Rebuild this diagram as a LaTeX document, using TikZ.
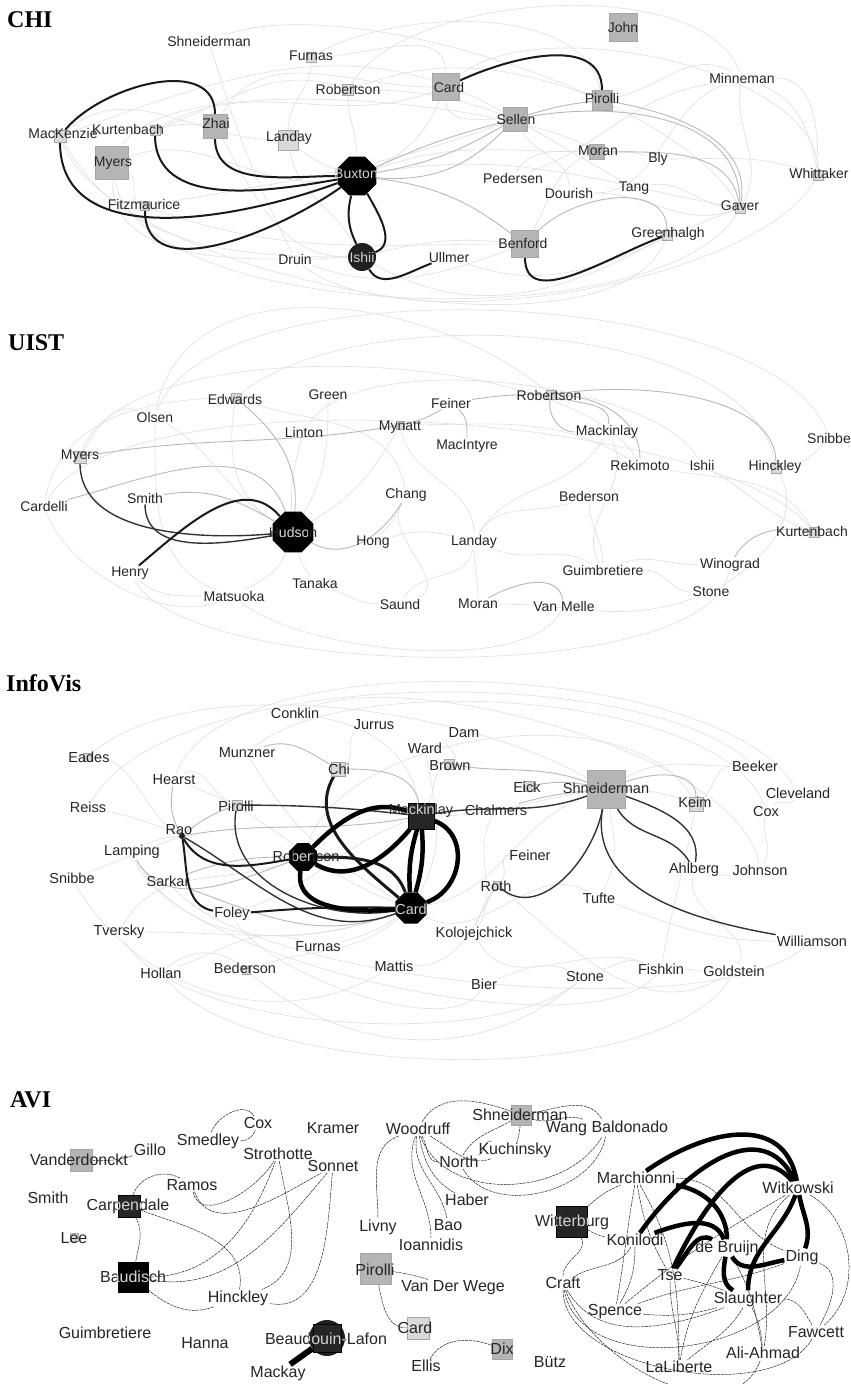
\documentclass[tikz,border=0pt]{standalone}
\usepackage{fontspec}
\setmainfont{Liberation Sans}
\newfontfamily\headfont{Liberation Serif}
\usetikzlibrary{shapes.geometric,backgrounds}
\tikzset{
    who/.style={font=\fontsize{14}{16}\selectfont,inner sep=1pt,text=black!85},
    whoi/.style={who,font=\fontsize{14.5}{16}\selectfont},
    whoa/.style={who,font=\fontsize{16}{18}\selectfont},
    dim/.style={text=gray!35},
    venue/.style={font=\headfont\bfseries\fontsize{24}{28}\selectfont,anchor=west,inner sep=0pt},
    box/.style={rectangle,draw=gray!70,line width=0.4pt,minimum size=#1,inner sep=0pt},
    pale/.style={box=#1,fill=gray!30},
    grey/.style={box=#1,fill=gray!58},
    dark/.style={box=#1,fill=gray!30!black,draw=black},
    coal/.style={box=#1,fill=black,draw=black},
    hub/.style={regular polygon,regular polygon sides=8,fill=black,minimum size=#1,inner sep=0pt},
    ball/.style={circle,fill=gray!25!black,minimum size=#1,inner sep=0pt},
    faint/.style={draw=gray!25,line width=0.6pt},
    soft/.style={draw=gray!55,line width=0.9pt},
    firm/.style={draw=gray!40!black,line width=1.4pt},
    strong/.style={draw=black!90,line width=2pt},
    heavy/.style={draw=black,line width=4.5pt},
    hair/.style={draw=black!85,line width=0.5pt,dash pattern=on 3pt off 0.8pt},
}

\begin{document}
\begin{tikzpicture}[x=1pt,y=-1pt]
\useasboundingbox (0,0) rectangle (851,1384);

% ---------------- CHI
\node[venue] (tCHI) at (7,20) {CHI};
\node[pale=10] (cFurnas) at (311,57) {};
\node[pale=11] (cRobertson) at (348,90) {};
\node[grey=27] (cCard) at (446,87) {};
\node[grey=28] (cJohn) at (623,27) {};
\node[grey=20] (cPirolli) at (602,100) {};
\node[grey=24] (cSellen) at (515,119) {};
\node[pale=12] (cMacKenzie) at (60,136) {};
\node[pale=10] (cKurtenbach) at (155,130) {};
\node[grey=24] (cZhai) at (215,126) {};
\node[pale=20] (cLanday) at (288,140) {};
\node[grey=33] (cMyers) at (112,163) {};
\node[hub=42] (cBuxton) at (357,176) {};
\node[grey=15] (cMoran) at (597,152) {};
\node[pale=9] (cFitzmaurice) at (145,206) {};
\node[pale=10] (cGaver) at (740,208) {};
\node[grey=27] (cBenford) at (525,244) {};
\node[pale=10] (cGreenhalgh) at (667,235) {};
\node[ball=28] (cIshii) at (362,257) {};
\node[pale=10] (cWhittaker) at (818,175) {};

\node[who] (cShneiderman) at (209,41) {Shneiderman};
\node[who] (cFurnasL) at (311,56) {Furnas};
\node[who] (cRobertsonL) at (348,89) {Robertson};
\node[who] (cCardL) at (449,87) {Card};
\node[who] (cJohnL) at (623,27) {John};
\node[who] (cPirolliL) at (602,98) {Pirolli};
\node[who] (cMinneman) at (742,78) {Minneman};
\node[who] (cSellenL) at (516,119) {Sellen};
\node[who] (cMacKenzieL) at (63,133) {MacKenzie};
\node[who] (cKurtenbachL) at (128,129) {Kurtenbach};
\node[who] (cZhaiL) at (216,123) {Zhai};
\node[who] (cLandayL) at (289,138) {Landay};
\node[who] (cMyersL) at (113,163) {Myers};
\node[who,dim] (cBuxtonL) at (356,174) {Buxton};
\node[who] (cMoranL) at (598,151) {Moran};
\node[who] (cBly) at (658,159) {Bly};
\node[who] (cPedersen) at (513,178) {Pedersen};
\node[who] (cWhittakerL) at (819,173) {Whittaker};
\node[who] (cDourish) at (569,193) {Dourish};
\node[who] (cTang) at (634,188) {Tang};
\node[who] (cFitzmauriceL) at (144,204) {Fitzmaurice};
\node[who] (cGaverL) at (740,206) {Gaver};
\node[who] (cBenfordL) at (523,243) {Benford};
\node[who] (cGreenhalghL) at (668,234) {Greenhalgh};
\node[who] (cDruin) at (295,259) {Druin};
\node[who,dim] (cIshiiL) at (362,257) {Ishii};
\node[who] (cUllmer) at (449,257) {Ullmer};

% ---------------- UIST
\node[venue] (tUIST) at (8,343) {UIST};
\node[pale=10] (uEdwards) at (236,398) {};
\node[pale=8] (uMynatt) at (400,425) {};
\node[pale=9] (uRobertson) at (551,395) {};
\node[pale=12] (uMyers) at (80,457) {};
\node[hub=44] (uHudson) at (293,532) {};
\node[pale=10] (uHinckley) at (776,468) {};
\node[pale=10] (uKurtenbach) at (814,532) {};

\node[who] (uEdwardsL) at (235,399) {Edwards};
\node[who] (uGreen) at (328,395) {Green};
\node[who] (uOlsen) at (155,417) {Olsen};
\node[who] (uLinton) at (304,432) {Linton};
\node[who] (uMynattL) at (400,427) {Mynatt};
\node[who] (uFeiner) at (451,403) {Feiner};
\node[who] (uMacIntyre) at (467,446) {MacIntyre};
\node[who] (uRobertsonL) at (549,395) {Robertson};
\node[who] (uMackinlay) at (607,432) {Mackinlay};
\node[who] (uRekimoto) at (640,465) {Rekimoto};
\node[who] (uIshii) at (702,465) {Ishii};
\node[who] (uHinckleyL) at (775,467) {Hinckley};
\node[who] (uSnibbe) at (829,438) {Snibbe};
\node[who] (uMyersL) at (80,456) {Myers};
\node[who] (uCardelli) at (44,506) {Cardelli};
\node[who] (uSmith) at (145,498) {Smith};
\node[who] (uChang) at (406,495) {Chang};
\node[who] (uBederson) at (589,496) {Bederson};
\node[who] (uHudsonL) at (293,532) {Hudson};
\node[who] (uHong) at (373,542) {Hong};
\node[who] (uLanday) at (474,542) {Landay};
\node[who] (uKurtenbachL) at (812,531) {Kurtenbach};
\node[who] (uHenry) at (130,573) {Henry};
\node[who] (uWinograd) at (730,565) {Winograd};
\node[who] (uGuimbretiere) at (603,570) {Guimbretiere};
\node[who] (uTanaka) at (315,583) {Tanaka};
\node[who] (uMatsuoka) at (234,596) {Matsuoka};
\node[who] (uStone) at (711,592) {Stone};
\node[who] (uSaund) at (400,604) {Saund};
\node[who] (uMoran) at (478,604) {Moran};
\node[who] (uVanMelle) at (564,606) {Van Melle};
\begin{scope}
\clip (uHudson.south west) rectangle (uHudson.north east);
\node[who,dim] (uHudsonW) at (293,532) {Hudson};
\end{scope}

% ---------------- InfoVis
\node[venue] (tInfoVis) at (6,683) {InfoVis};
\node[pale=8] (iEades) at (87,757) {};
\node[pale=14] (iChi) at (338,769) {};
\node[pale=10] (iBrown) at (449,764) {};
\node[pale=10] (iEick) at (528,786) {};
\node[ball=36] (iShneidermanB) at (606,789) {};
\node[grey=38] (iShneiderman) at (606,789) {};
\node[pale=14] (iKeim) at (696,804) {};
\node[pale=10] (iPirolli) at (237,805) {};
\node[dark=26] (iMackinlay) at (421,816) {};
\node[ball=6] (iRao) at (182,836) {};
\node[hub=30] (iRobertson) at (303,857) {};
\node[pale=8] (iRoth) at (497,885) {};
\node[hub=34] (iCard) at (411,908) {};
\node[pale=8] (iBederson) at (246,970) {};

\node[whoi] (iConklin) at (295,713) {Conklin};
\node[whoi] (iJurrus) at (374,725) {Jurrus};
\node[whoi] (iDam) at (464,733) {Dam};
\node[whoi] (iWard) at (425,748) {Ward};
\node[whoi] (iEadesL) at (89,757) {Eades};
\node[whoi] (iMunzner) at (247,753) {Munzner};
\node[whoi] (iBrownL) at (450,766) {Brown};
\node[whoi] (iChiL) at (339,769) {Chi};
\node[whoi] (iBeeker) at (755,766) {Beeker};
\node[whoi] (iHearst) at (174,780) {Hearst};
\node[whoi] (iEickL) at (527,787) {Eick};
\node[whoi] (iShneidermanL) at (606,788) {Shneiderman};
\node[whoi] (iCleveland) at (798,793) {Cleveland};
\node[whoi] (iChalmers) at (496,810) {Chalmers};
\node[whoi] (iKeimL) at (695,802) {Keim};
\node[whoi] (iPirolliL) at (236,806) {Pirolli};
\node[whoi] (iMackinlayL) at (421,811) {Mackinlay};
\node[whoi] (iCox) at (766,811) {Cox};
\node[whoi] (iReiss) at (88,807) {Reiss};
\node[whoi] (iRaoL) at (179,830) {Rao};
\node[whoi] (iLamping) at (132,852) {Lamping};
\node[whoi] (iRobertsonL) at (306,856) {Robertson};
\node[whoi] (iFeiner) at (530,855) {Feiner};
\node[whoi] (iSnibbe) at (72,878) {Snibbe};
\node[whoi] (iSarkar) at (168,881) {Sarkar};
\node[whoi] (iRothL) at (496,886) {Roth};
\node[whoi] (iAhlberg) at (694,870) {Ahlberg};
\node[whoi] (iJohnson) at (760,870) {Johnson};
\node[whoi] (iTufte) at (599,898) {Tufte};
\node[whoi,dim] (iCardL) at (411,909) {Card};
\node[whoi] (iFoley) at (232,914) {Foley};
\node[whoi] (iTversky) at (119,932) {Tversky};
\node[whoi] (iKolojejchick) at (474,934) {Kolojejchick};
\node[whoi] (iWilliamson) at (812,941) {Williamson};
\node[whoi] (iFurnas) at (318,947) {Furnas};
\node[whoi] (iHollan) at (161,973) {Hollan};
\node[whoi] (iBedersonL) at (245,968) {Bederson};
\node[whoi] (iMattis) at (394,966) {Mattis};
\node[whoi] (iBier) at (484,984) {Bier};
\node[whoi] (iStone) at (585,976) {Stone};
\node[whoi] (iFishkin) at (661,969) {Fishkin};
\node[whoi] (iGoldstein) at (734,971) {Goldstein};
\begin{scope}
\clip (iMackinlay.south west) rectangle (iMackinlay.north east);
\node[whoi,dim] (iMackinlayW) at (421,811) {Mackinlay};
\end{scope}
\begin{scope}
\clip (iRobertson.south west) rectangle (iRobertson.north east);
\node[whoi,dim] (iRobertsonW) at (306,856) {Robertson};
\end{scope}

% ---------------- AVI
\node[venue] (tAVI) at (10,1100) {AVI};
\node[grey=22] (aVanderdonckt) at (81,1160) {};
\node[dark=22] (aCarpendale) at (129,1206) {};
\node[coal=30] (aBaudisch) at (133,1277) {};
\node[pale=8] (aLee) at (74,1237) {};
\node[grey=20] (aShneiderman) at (521,1115) {};
\node[grey=31] (aPirolli) at (376,1269) {};
\node[pale=22] (aCard) at (418,1328) {};
\node[grey=20] (aDix) at (502,1349) {};
\node[dark=31] (aWitterburg) at (572,1222) {};
\node[ball=36] (aBeaudouinLafon) at (327,1338) {};
\node[dark=28] (aBeaudouinLafonS) at (327,1338) {};

\node[whoa] (aCox) at (258,1123) {Cox};
\node[whoa] (aKramer) at (333,1128) {Kramer};
\node[whoa] (aWoodruff) at (418,1129) {Woodruff};
\node[whoa] (aShneidermanL) at (520,1115) {Shneiderman};
\node[whoa] (aWangBaldonado) at (607,1128) {Wang Baldonado};
\node[whoa] (aSmedley) at (208,1141) {Smedley};
\node[whoa] (aGillo) at (150,1150) {Gillo};
\node[whoa] (aVanderdoncktL) at (79,1160) {Vanderdonckt};
\node[whoa] (aStrothotte) at (278,1154) {Strothotte};
\node[whoa] (aSonnet) at (333,1166) {Sonnet};
\node[whoa] (aKuchinsky) at (515,1150) {Kuchinsky};
\node[whoa] (aNorth) at (459,1162) {North};
\node[whoa] (aRamos) at (192,1185) {Ramos};
\node[whoa] (aMarchionni) at (636,1178) {Marchionni};
\node[whoa] (aWitkowski) at (798,1188) {Witkowski};
\node[whoa] (aSmith) at (48,1198) {Smith};
\node[whoa] (aCarpendaleL) at (128,1206) {Carpendale};
\node[whoa] (aHaber) at (467,1200) {Haber};
\node[whoa] (aWitterburgL) at (572,1222) {Witterburg};
\node[whoa] (aBao) at (448,1225) {Bao};
\node[whoa] (aLivny) at (378,1227) {Livny};
\node[whoa] (aLeeL) at (74,1238) {Lee};
\node[whoa] (aIoannidis) at (431,1245) {Ioannidis};
\node[whoa] (aKonilodi) at (635,1240) {Konilodi};
\node[whoa] (aDeBruijn) at (727,1248) {de Bruijn};
\node[whoa] (aDing) at (802,1257) {Ding};
\node[whoa] (aPirolliL) at (375,1270) {Pirolli};
\node[whoa] (aVanDerWege) at (453,1288) {Van Der Wege};
\node[whoa] (aTse) at (670,1275) {Tse};
\node[whoa] (aCraft) at (563,1283) {Craft};
\node[whoa] (aBaudischL) at (133,1277) {Baudisch};
\node[whoa] (aSlaughter) at (748,1299) {Slaughter};
\node[whoa] (aHinckley) at (238,1298) {Hinckley};
\node[whoa] (aSpence) at (615,1312) {Spence};
\node[whoa] (aFawcett) at (816,1332) {Fawcett};
\node[whoa] (aCardL) at (415,1328) {Card};
\node[whoa] (aGuimbretiere) at (105,1333) {Guimbretiere};
\node[whoa] (aHanna) at (205,1343) {Hanna};
\node[whoa] (aBeaudouinLafonL) at (326,1339) {Beaudouin-Lafon};
\node[whoa] (aAliAhmad) at (763,1353) {Ali-Ahmad};
\node[whoa] (aDixL) at (502,1349) {Dix};
\node[whoa] (aEllis) at (426,1366) {Ellis};
\node[whoa] (aButz) at (550,1362) {Bütz};
\node[whoa] (aLaLiberte) at (679,1367) {LaLiberte};
\node[whoa] (aMackay) at (278,1373) {Mackay};
\begin{scope}
\clip (aCarpendale.south west) rectangle (aCarpendale.north east);
\node[whoa,dim] (aCarpendaleW) at (128,1206) {Carpendale};
\end{scope}
\begin{scope}
\clip (aBaudisch.south west) rectangle (aBaudisch.north east);
\node[whoa,dim] (aBaudischW) at (133,1277) {Baudisch};
\end{scope}
\begin{scope}
\clip (aWitterburg.south west) rectangle (aWitterburg.north east);
\node[whoa,dim] (aWitterburgW) at (572,1222) {Witterburg};
\end{scope}
\begin{scope}
\clip (327,1338) circle (18);
\node[whoa,dim] (aBeaudouinLafonW) at (326,1339) {Beaudouin-Lafon};
\end{scope}

\begin{scope}[on background layer]
\fill[white] (0,0) rectangle (851,1384);
% CHI links
\draw[faint] (cShneiderman) to[bend right=5] (cDruin);
\draw[faint] (cFurnas) to[out=30,in=100,looseness=0.8] (cPirolli);
\draw[faint] (cFurnas) to[out=0,in=90] (cCard);
\draw[faint] (cFurnas) to[out=-90,in=90] (cLanday);
\draw[faint] (cRobertson) to[out=20,in=160] (cPirolli);
\draw[faint] (cRobertson) to[bend left=10] (cSellen);
\draw[faint] (cRobertson) to[out=-90,in=90] (cBuxton);
\draw[faint] (cRobertson) to[out=60,in=110,looseness=0.7] (cMinneman);
\draw[faint] (cShneiderman) to[out=20,in=120,looseness=0.6] (cGaver);
\draw[faint] (cCard) to[out=40,in=90,looseness=0.7] (cWhittaker);
\draw[faint] (cMyers) to[out=60,in=150,looseness=0.5] (cMoran);
\draw[faint] (cDruin) to[out=-40,in=-120,looseness=0.6] (cWhittaker);
\draw[faint] (cCard) to[bend left=20] (cBuxton);
\draw[faint] (cCard) to[out=-90,in=180] (cSellen);
\draw[faint] (cCard) to[out=200,in=30] (cKurtenbach);
\draw[faint] (cCard) to[out=180,in=60] (cZhai);
\draw[faint] (cPirolli) to[out=10,in=150] (cMinneman);
\draw[faint] (cMinneman) to[out=0,in=90] (cWhittaker);
\draw[faint] (cMinneman) to[out=-20,in=100] (cWhittaker);
\draw[faint] (cMinneman) to[out=-100,in=60] (cGaver);
\draw[faint] (cMinneman) to[out=200,in=0] (cDourish);
\draw[faint] (cMinneman) to[out=190,in=20] (cPedersen);
\draw[faint] (cMoran) to[bend left=10] (cBly);
\draw[faint] (cMoran) to[out=180,in=60] (cPedersen);
\draw[faint] (cMoran) to[out=200,in=60] (cBenford);
\draw[faint] (cBly) to[out=0,in=160] (cWhittaker);
\draw[faint] (cTang) to[out=10,in=180] (cGaver);
\draw[faint] (cDourish) to[out=0,in=200] (cGaver);
\draw[faint] (cMacKenzie) to[out=40,in=180] (cLanday);
\draw[faint] (cMacKenzie) to[out=20,in=150] (cSellen);
\draw[faint] (cKurtenbach) to[bend left=10] (cZhai);
\draw[faint] (cKurtenbach) to[out=20,in=160] (cRobertson);
\draw[faint] (cMyers) to[out=20,in=190] (cBuxton);
\draw[faint] (cMyers) to[out=-30,in=160] (cFitzmaurice);
\draw[faint] (cMyers) to[out=-90,in=180] (cDruin);
\draw[faint] (cFitzmaurice) to[out=10,in=200] (cSellen);
\draw[faint] (cFitzmaurice) to[out=-20,in=180] (cBenford);
\draw[faint] (cLanday) to[bend right=10] (cBuxton);
\draw[faint] (cLanday) to[out=-80,in=120] (cIshii);
\draw[faint] (cBuxton) to[out=10,in=170] (cGaver);
\draw[faint] (cBuxton) to[out=20,in=180] (cMoran);
\draw[faint] (cIshii) to[bend left=10] (cBenford);
\draw[faint] (cIshii) to[out=180,in=0] (cDruin);
\draw[faint] (cIshii) to[out=-30,in=-150] (cGreenhalgh);
\draw[faint] (cUllmer) to[out=-20,in=200] (cGaver);
\draw[faint] (cDruin) to[out=-20,in=-160] (cBenford);
\draw[faint] (cSellen) to[out=-30,in=150] (cTang);
\draw[faint] (cSellen) to[out=-60,in=90] (cDourish);
\draw[faint] (cZhai) to[out=-60,in=180] (cIshii);
\draw[faint] (cMacKenzie) to[out=-60,in=180] (cIshii);
\draw[faint] (cMacKenzie) to[out=-70,in=-110,looseness=0.6] (cGreenhalgh);
\draw[faint] (cMyers) to[out=-80,in=-120,looseness=0.6] (cGaver);
\draw[soft] (cSellen) to[bend right=5] (cBuxton);
\draw[soft] (cSellen) to[bend left=10] (cBuxton);
\draw[soft] (cSellen) to[bend left=25] (cBuxton);
\draw[soft] (cSellen) to[bend left=5] (cPirolli);
\draw[soft] (cSellen) to[out=10,in=90] (cGaver);
\draw[soft] (cPirolli) to[out=-10,in=80] (cGaver);
\draw[soft] (cMoran) to[out=0,in=100] (cGaver);
\draw[soft] (cBenford) to[out=45,in=90] (cGreenhalgh);
\draw[soft] (cBuxton) to[bend left=15] (cBenford);
\draw[strong] (cMacKenzie) to[out=50,in=90] (cZhai);
\draw[strong] (cZhai) to[out=-90,in=180] (cBuxton);
\draw[strong] (cMacKenzie) to[out=-90,in=200] (cBuxton);
\draw[strong] (cKurtenbach) to[out=-90,in=190] (cBuxton);
\draw[strong] (cFitzmaurice) to[out=-90,in=215] (cBuxton);
\draw[strong] (cBuxton) to[bend right=20] (cIshii);
\draw[strong] (cBuxton) to[out=-60,in=20] (cIshii);
\draw[strong] (cIshii) to[out=-60,in=200] (cUllmer);
\draw[strong] (cCard) to[out=25,in=90] (cPirolli);
\draw[strong] (cBenford) to[out=-90,in=200] (cGreenhalgh);

% UIST links
\draw[faint] (uEdwards) to[out=40,in=100,looseness=0.7] (uHinckley);
\draw[faint] (uOlsen) to[out=80,in=140] (uRobertson);
\draw[faint] (uOlsen) to[out=-90,in=160] (uMatsuoka);
\draw[faint] (uOlsen) to[out=-30,in=150] (uHudson);
\draw[faint] (uGreen) to[out=-90,in=60] (uHudson);
\draw[faint] (uLinton) to[bend right=10] (uHudson);
\draw[faint] (uEdwards) to[out=-100,in=150] (uHudson);
\draw[faint] (uEdwards) to[out=-20,in=100] (uChang);
\draw[faint] (uMynatt) to[out=-120,in=30] (uHudson);
\draw[faint] (uMynatt) to[out=-80,in=90] (uLanday);
\draw[faint] (uMynatt) to[out=0,in=150] (uRekimoto);
\draw[faint] (uChang) to[bend left=10] (uHong);
\draw[faint] (uHong) to[bend left=15] (uLanday);
\draw[faint] (uLanday) to[out=-90,in=90] (uMoran);
\draw[faint] (uLanday) to[out=-100,in=60] (uSaund);
\draw[faint] (uLanday) to[out=-20,in=150] (uGuimbretiere);
\draw[faint] (uTanaka) to[out=-20,in=180] (uSaund);
\draw[faint] (uTanaka) to[bend left=10] (uHudson);
\draw[faint] (uMatsuoka) to[out=30,in=-110] (uHudson);
\draw[faint] (uHenry) to[out=-40,in=180] (uMatsuoka);
\draw[faint] (uCardelli) to[out=-70,in=200,looseness=0.8] (uMatsuoka);
\draw[faint] (uBederson) to[out=-90,in=90] (uGuimbretiere);
\draw[faint] (uBederson) to[out=200,in=60] (uLanday);
\draw[faint] (uMackinlay) to[out=-120,in=60] (uLanday);
\draw[faint] (uMackinlay) to[out=-60,in=120] (uGuimbretiere);
\draw[faint] (uGuimbretiere) to[out=0,in=180] (uStone);
\draw[faint] (uRekimoto) to[out=-10,in=120] (uKurtenbach);
\draw[faint] (uIshii) to[out=-30,in=160] (uKurtenbach);
\draw[faint] (uWinograd) to[out=180,in=20] (uGuimbretiere);
\draw[faint] (uSnibbe) to[bend left=20] (uHinckley);
\draw[faint] (uMyers) to[out=60,in=160] (uOlsen);
\draw[faint] (uMoran) to[out=0,in=200] (uStone);
\draw[faint] (uSaund) to[out=20,in=-120] (uChang);
\draw[faint] (uHinckley) to[out=-60,in=30] (uStone);
\draw[faint] (uCardelli) to[out=80,in=180] (uEdwards);
\draw[faint] (uOlsen) to[out=70,in=110,looseness=0.6] (uSnibbe);
\draw[faint] (uMyers) to[out=70,in=120,looseness=0.6] (uRekimoto);
\draw[faint] (uCardelli) to[out=60,in=130,looseness=0.5] (uKurtenbach);
\draw[faint] (uHenry) to[out=-60,in=-100,looseness=0.5] (uWinograd);
\draw[faint] (uMatsuoka) to[out=-40,in=-120,looseness=0.6] (uVanMelle);
\draw[faint] (uLinton) to[out=60,in=120,looseness=0.6] (uIshii);
\draw[soft] (uCardelli) to[out=15,in=110] (uHudson);
\draw[soft] (uEdwards) to[out=-40,in=85] (uHudson);
\draw[soft] (uSmith) to[out=10,in=150] (uHudson);
\draw[soft] (uMyers) to[out=10,in=190] (uMynatt);
\draw[soft] (uHudson) to[out=-30,in=-120] (uChang);
\draw[soft] (uMynatt) to[bend right=10] (uFeiner);
\draw[soft] (uFeiner) to[bend left=5] (uRobertson);
\draw[soft] (uFeiner) to[out=-40,in=90] (uMacIntyre);
\draw[soft] (uRobertson) to[out=-100,in=180] (uMackinlay);
\draw[soft] (uRobertson) to[out=-20,in=80] (uMackinlay);
\draw[soft] (uRobertson) to[out=0,in=90] (uRekimoto);
\draw[soft] (uRobertson) to[out=10,in=90,looseness=0.8] (uHinckley);
\draw[soft] (uMoran) to[out=30,in=100] (uVanMelle);
\draw[soft] (uKurtenbach) to[out=170,in=60] (uWinograd);
\draw[firm] (uSmith) to[out=-90,in=190] (uHudson);
\draw[firm] (uMyers) to[out=-90,in=185,looseness=0.9] (uHudson);
\draw[strong] (uHenry) to[out=40,in=130] (uHudson);

% InfoVis links
\draw[faint] (iEades) to[out=0,in=150] (iRao);
\draw[faint] (iReiss) to[bend left=5] (iRao);
\draw[faint] (iSnibbe) to[out=20,in=200] (iRao);
\draw[faint] (iLamping) to[bend left=10] (iRao);
\draw[faint] (iLamping) to[out=-60,in=200] (iCard);
\draw[faint] (iTversky) to[out=0,in=200] (iCard);
\draw[faint] (iTversky) to[out=60,in=200] (iRobertson);
\draw[faint] (iHollan) to[out=40,in=140] (iBederson);
\draw[faint] (iHollan) to[out=20,in=160] (iFurnas);
\draw[faint] (iBederson) to[out=-40,in=-140] (iStone);
\draw[faint] (iBederson) to[out=20,in=220] (iCard);
\draw[faint] (iFurnas) to[bend right=10] (iCard);
\draw[faint] (iMattis) to[out=0,in=-120] (iRoth);
\draw[faint] (iKolojejchick) to[bend left=10] (iRoth);
\draw[faint] (iConklin) to[out=-10,in=100] (iMackinlay);
\draw[faint] (iJurrus) to[out=200,in=30] (iChi);
\draw[faint] (iDam) to[out=200,in=30] (iBrown);
\draw[faint] (iWard) to[out=-80,in=60] (iCard);
\draw[faint] (iBrown) to[out=-150,in=60] (iMackinlay);
\draw[faint] (iFeiner) to[out=180,in=40] (iRoth);
\draw[faint] (iRoth) to[out=-40,in=-150] (iGoldstein);
\draw[faint] (iStone) to[out=20,in=160] (iFishkin);
\draw[faint] (iFishkin) to[out=0,in=180] (iGoldstein);
\draw[faint] (iBier) to[out=20,in=160] (iStone);
\draw[faint] (iTufte) to[out=60,in=-80] (iShneiderman);
\draw[faint] (iKeim) to[out=40,in=180] (iBeeker);
\draw[faint] (iCleveland) to[out=-120,in=40] (iCox);
\draw[faint] (iCox) to[out=-100,in=60] (iJohnson);
\draw[faint] (iJohnson) to[bend left=10] (iAhlberg);
\draw[faint] (iBeeker) to[out=180,in=30] (iShneiderman);
\draw[faint] (iHearst) to[out=30,in=160] (iPirolli);
\draw[faint] (iHearst) to[out=-20,in=160] (iCard);
\draw[faint] (iMunzner) to[out=-60,in=150] (iCard);
\draw[faint] (iRobertson) to[out=70,in=120,looseness=0.8] (iKeim);
\draw[faint] (iCard) to[out=10,in=200] (iShneiderman);
\draw[faint] (iEades) to[out=40,in=150,looseness=0.7] (iShneiderman);
\draw[faint] (iHollan) to[out=-50,in=-120,looseness=0.6] (iGoldstein);
\draw[faint] (iTversky) to[out=-60,in=-140,looseness=0.6] (iStone);
\draw[faint] (iSnibbe) to[out=-60,in=-150] (iMattis);
\draw[faint] (iAhlberg) to[out=-100,in=60] (iGoldstein);
\draw[faint] (iKeim) to[out=-100,in=80] (iFishkin);
\draw[faint] (iKolojejchick) to[out=-60,in=160] (iFishkin);
\draw[faint] (iTufte) to[out=-20,in=180] (iWilliamson);
\draw[faint] (iCard) to[out=-30,in=150] (iTufte);
\draw[faint] (iMackinlay) to[out=0,in=160] (iKeim);
\draw[faint] (iChalmers) to[out=-120,in=60] (iKolojejchick);
\draw[faint] (iFoley) to[out=20,in=200] (iMackinlay);
\draw[faint] (iReiss) to[out=60,in=140,looseness=0.6] (iBeeker);
\draw[faint] (iHearst) to[out=70,in=120,looseness=0.6] (iCleveland);
\draw[faint] (iConklin) to[out=20,in=100,looseness=0.6] (iJohnson);
\draw[faint] (iLamping) to[out=-70,in=-130,looseness=0.5] (iFishkin);
\draw[faint] (iFoley) to[out=-60,in=-120,looseness=0.6] (iBier);
\draw[faint] (iMunzner) to[out=40,in=110,looseness=0.6] (iCox);
\draw[faint] (iSarkar) to[out=-50,in=-140,looseness=0.5] (iWilliamson);
\draw[soft] (iHearst) to[out=-100,in=120] (iRao);
\draw[soft] (iRao) to[out=40,in=200] (iPirolli);
\draw[soft] (iRao) to[out=10,in=190] (iMackinlay);
\draw[soft] (iMunzner) to[out=20,in=150] (iChi);
\draw[soft] (iChi) to[out=0,in=100] (iMackinlay);
\draw[soft] (iLamping) to[out=-60,in=200] (iRobertson);
\draw[soft] (iSarkar) to[bend left=10] (iRobertson);
\draw[soft] (iSarkar) to[out=-20,in=200] (iCard);
\draw[soft] (iShneiderman) to[out=20,in=90] (iKeim);
\draw[soft] (iChalmers) to[bend left=5] (iShneiderman);
\draw[soft] (iEick) to[bend left=10] (iShneiderman);
\draw[soft] (iBrown) to[out=-10,in=160] (iShneiderman);
\draw[firm] (iShneiderman) to[out=200,in=10] (iMackinlay);
\draw[firm] (iShneiderman) to[out=-60,in=120] (iAhlberg);
\draw[firm] (iAhlberg) to[out=80,in=-20] (iShneiderman);
\draw[firm] (iShneiderman) to[out=-100,in=170] (iWilliamson);
\draw[firm] (iRoth) to[out=-40,in=-100] (iShneiderman);
\draw[firm] (iRao) to[out=-30,in=200] (iCard);
\draw[firm] (iPirolli) to[bend left=3] (iMackinlay);
\draw[firm] (iPirolli) to[out=-100,in=190] (iCard);
\draw[strong] (iRao) to[out=-80,in=170] (iFoley);
\draw[strong] (iFoley) to[bend left=3] (iCard);
\draw[strong] (iRao) to[out=-60,in=190] (iRobertson);
\draw[strong,line width=3pt] (iChi) to[out=-120,in=140] (iCard);
\draw[strong,line width=3pt] (iRobertson) to[out=0,in=110] (iCard);
\draw[heavy] (iRobertson) to[out=45,in=160] (iMackinlay);
\draw[heavy] (iRobertson) to[out=-30,in=230] (iMackinlay);
\draw[heavy] (iRobertson) to[out=-100,in=185] (iCard);
\draw[heavy] (iMackinlay) to[bend right=10] (iCard);
\draw[heavy] (iMackinlay) to[bend left=10] (iCard);
\draw[heavy] (iMackinlay) to[out=-20,in=20,looseness=1.2] (iCard);

% AVI links
\draw[hair] (aVanderdonckt) to[bend right=10] (aGillo);
\draw[hair] (aSmedley) to[out=70,in=120] (aCox);
\draw[hair] (aSmedley) to[out=0,in=-110] (aCox);
\draw[hair] (aCarpendale) to[out=70,in=150] (aRamos);
\draw[hair] (aRamos) to[out=-80,in=-120] (aStrothotte);
\draw[hair] (aRamos) to[out=-70,in=-150] (aSonnet);
\draw[hair] (aStrothotte) to[out=-110,in=0] (aBaudisch);
\draw[hair] (aStrothotte) to[out=-80,in=20] (aHinckley);
\draw[hair] (aSonnet) to[out=-130,in=-10] (aBaudisch);
\draw[hair] (aSonnet) to[out=-95,in=-10] (aHinckley);
\draw[hair] (aCarpendale) to[out=-20,in=80] (aHinckley);
\draw[hair] (aCarpendale) to[out=-60,in=80] (aBaudisch);
\draw[hair] (aBaudisch) to[out=-40,in=200] (aHinckley);
\draw[hair] (aWoodruff) to[out=200,in=90] (aLivny);
\draw[hair] (aWoodruff) to[out=-110,in=90] (aIoannidis);
\draw[hair] (aWoodruff) to[out=-100,in=100] (aBao);
\draw[hair] (aWoodruff) to[out=-80,in=150] (aHaber);
\draw[hair] (aWoodruff) to[out=-60,in=180] (aNorth);
\draw[hair] (aWoodruff) to[out=-30,in=200] (aKuchinsky);
\draw[hair] (aWoodruff) to[out=60,in=160] (aShneiderman);
\draw[hair] (aWoodruff) to[out=-70,in=-120] (aWangBaldonado);
\draw[hair] (aShneiderman) to[out=-150,in=60] (aNorth);
\draw[hair] (aShneiderman) to[bend left=5] (aKuchinsky);
\draw[hair] (aShneiderman) to[out=10,in=120] (aWangBaldonado);
\draw[hair] (aShneiderman) to[out=-20,in=160] (aWangBaldonado);
\draw[hair] (aNorth) to[out=-60,in=-100] (aWangBaldonado);
\draw[hair] (aKuchinsky) to[out=160,in=20] (aNorth);
\draw[hair] (aPirolli) to[bend left=5] (aVanDerWege);
\draw[hair] (aPirolli) to[out=-80,in=180] (aCard);
\draw[hair] (aEllis) to[out=60,in=160] (aDix);
\draw[hair] (aWitterburg) to[bend left=10] (aMarchionni);
\draw[hair] (aWitterburg) to[bend right=10] (aKonilodi);
\draw[hair] (aWitterburg) to[out=-60,in=90] (aCraft);
\draw[hair] (aMarchionni) to[out=-100,in=80] (aSpence);
\draw[hair] (aMarchionni) to[out=-80,in=120] (aTse);
\draw[hair] (aMarchionni) to[out=-60,in=90] (aLaLiberte);
\draw[hair] (aMarchionni) to[out=0,in=160] (aDing);
\draw[hair] (aKonilodi) to[out=-120,in=30] (aCraft);
\draw[hair] (aKonilodi) to[out=-90,in=60] (aSpence);
\draw[hair] (aTse) to[bend left=3] (aSlaughter);
\draw[hair] (aTse) to[out=-90,in=90] (aLaLiberte);
\draw[hair] (aCraft) to[out=-90,in=-120,looseness=0.8] (aFawcett);
\draw[hair] (aCraft) to[out=-80,in=-100] (aDing);
\draw[hair] (aCraft) to[out=-60,in=200] (aSlaughter);
\draw[hair] (aCraft) to[out=-70,in=-110] (aAliAhmad);
\draw[hair] (aSpence) to[bend right=10] (aSlaughter);
\draw[hair] (aSpence) to[out=20,in=200] (aDing);
\draw[hair] (aSpence) to[out=40,in=-150] (aWitkowski);
\draw[hair] (aSlaughter) to[out=0,in=120] (aFawcett);
\draw[hair] (aSlaughter) to[bend left=10] (aAliAhmad);
\draw[hair] (aSlaughter) to[out=-120,in=40] (aLaLiberte);
\draw[hair] (aDeBruijn) to[out=-60,in=100] (aAliAhmad);
\draw[hair] (aDing) to[out=-20,in=60] (aFawcett);
\draw[hair] (aWitkowski) to[out=-30,in=40] (aFawcett);
\draw[hair] (aWitkowski) to[out=-140,in=80] (aAliAhmad);
\draw[hair] (aLaLiberte) to[out=80,in=-120] (aDeBruijn);
\draw[heavy,line width=6pt] (aBeaudouinLafon) to (aMackay);
\draw[heavy] (aMarchionni) to[out=35,in=100,looseness=1.2] (aWitkowski);
\draw[heavy] (aKonilodi) to[out=55,in=115,looseness=1.2] (aWitkowski);
\draw[heavy] (aTse) to[out=65,in=130,looseness=1.1] (aWitkowski);
\draw[heavy] (aMarchionni) to[out=-10,in=90] (aDeBruijn);
\draw[heavy] (aKonilodi) to[out=20,in=110] (aDeBruijn);
\draw[heavy] (aTse) to[out=50,in=150] (aDeBruijn);
\draw[heavy] (aWitkowski) to[out=-110,in=90] (aSlaughter);
\draw[heavy] (aWitkowski) to[out=-80,in=70] (aDing);
\draw[heavy] (aDeBruijn) to[out=-100,in=150] (aSlaughter);
\draw[heavy] (aDing) to[out=190,in=-60] (aDeBruijn);
\end{scope}
\end{tikzpicture}
\end{document}
